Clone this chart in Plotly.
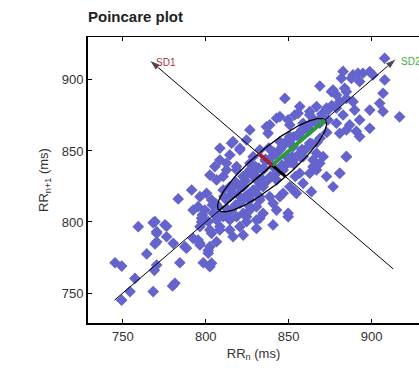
import numpy as np
import plotly.graph_objects as go

# RR interval pairs (ms)
rr_n = [
 759.3,768.3,776.4,770.4,769.4,764.4,745.3,749.3,770.4,769.0,784.4,757.3,781.4,780.0,754.3,768.3,749.3,
 787.4,795.4,796.5,801.5,801.5,798.5,803.5,802.5,803.5,797.5,799.5,
 783.4,791.5,808.5,840.6,849.7,815.6,820.6,836.6,884.8,880.8,890.8,876.8,863.7,
 907.9,882.8,888.8,894.8,900.8,907.9,868.8,876.8,884.8,847.7,916.9,904.9,898.9,
 891.8,898.9,881.8,887.8,892.8,875.8,878.8,883.8,906.9,906.9,892.8,898.9,892.8,880.8,886.8,
 842.7,853.7,856.7,862.7,866.8,872.8,880.8,884.8,888.8,878.8,882.8,889.8,873.7,878.8,884.8,850.7,858.7,
 769.4,775.4,770.4,776.4,770.4,780.4,802.5,805.5,808.5,812.5,
 796.5,800.5,803.5,795.4,799.5,804.5,807.5,797.5,801.5,806.5,810.5,796.5,802.5,808.5,792.4,
 814.5,818.6,822.6,826.6,830.6,815.6,820.6,826.6,832.6,814.5,820.6,824.6,832.6,816.5,822.6,830.6,
 812.5,818.6,822.6,826.6,830.6,816.5,822.6,828.6,806.5,810.5,814.5,819.6,
 792.4,796.5,802.5,806.5,788.4,
 808.5,816.5,820.6,814.5,838.6,837.6,844.7,849.7,855.7,862.7,868.8,862.7,856.7,850.7,844.7,852.7,
 862.7,866.8,858.7,852.7,846.7,856.7,864.7,868.8,842.7,850.7,858.7,826.6,824.6,810.5,818.6,826.6,
 820.6,830.6,834.6,826.6,832.6,828.6,836.6,842.7,848.7,840.6,834.6,822.6,814.5,846.7,854.7,838.6,
 884.8,880.8,872.8,866.8,862.7,853.7,849.7,856.7,864.7,870.8,832.6,840.6,844.7,826.6,834.6,842.7,
 824.6,830.6,
 845.0,850.0,855.0,860.0,865.0,835.0,840.0,846.0,852.0,858.0,828.0,834.0,838.0,848.0,854.0,
 812.0,816.0,820.0,824.0,828.0,832.0,836.0,842.0,846.0,850.0,856.0,860.0,866.0,870.0,874.0,
 808.0,813.0,818.0,823.0,829.0,834.0,839.0,844.0,849.0,854.0,859.0,864.0,869.0,
 818.0,824.0,830.0,836.0,841.0,847.0,853.0,858.0,863.0,870.0,876.0,
 804.0,811.0,817.0,825.0,831.0,837.0,843.0,851.0,857.0,861.0,867.0,873.0,
 798.0,806.0,813.0,821.0,828.0,835.0,
]
rr_n1 = [
 796.7,799.5,797.0,792.0,784.5,777.5,771.3,769.0,769.7,766.0,771.3,760.3,756.8,755.0,751.0,751.0,745.0,
 782.6,787.3,783.8,780.0,778.0,771.3,771.0,768.5,792.0,800.0,801.4,
 816.2,822.5,794.4,797.9,803.7,855.4,851.9,867.0,846.0,834.3,863.8,824.8,821.3,
 915.2,906.0,903.5,904.7,903.5,900.0,895.7,892.9,891.7,887.0,874.0,883.5,878.8,
 904.7,905.8,901.1,901.1,898.8,891.7,889.4,894.1,890.6,877.8,871.8,865.9,860.1,862.4,868.3,
 873.0,875.3,881.2,877.7,881.2,880.1,884.7,887.0,884.7,880.1,875.3,878.8,871.8,869.5,864.8,868.3,869.5,
 800.2,797.9,793.2,789.6,786.1,785.0,833.0,839.0,843.6,841.3,
 817.8,820.2,815.5,810.8,808.4,806.1,810.8,802.6,800.2,801.4,803.7,796.7,794.4,796.7,808.4,
 801.4,803.7,806.1,808.4,810.8,808.4,813.1,815.5,817.8,794.4,796.7,800.2,802.6,789.6,790.8,795.5,
 836.6,839.0,832.0,836.6,829.6,824.8,824.8,822.5,829.6,822.5,817.8,819.0,
 788.5,785.0,782.6,786.1,781.5,
 851.9,856.5,850.7,847.2,868.3,862.4,874.1,871.8,876.5,875.3,869.5,864.8,862.4,860.1,856.5,853.1,
 855.4,848.4,846.0,841.3,836.6,834.3,838.9,841.3,829.6,824.8,827.2,864.8,857.7,832.0,836.6,841.3,
 824.8,832.0,824.8,820.2,850.7,846.0,843.6,848.4,846.0,838.9,836.6,832.0,824.8,820.2,820.2,817.8,
 846.0,834.3,832.0,836.6,834.3,821.3,806.1,848.4,843.6,846.0,815.5,813.1,817.8,810.8,806.1,808.4,
 803.7,801.4,
 851.0,858.0,861.0,866.0,872.0,838.0,846.0,840.0,846.0,851.0,833.0,830.0,852.0,856.0,832.0,
 816.0,821.0,826.0,829.0,834.0,838.0,843.0,848.0,853.0,857.0,861.0,866.0,871.0,874.0,879.0,
 805.0,809.0,812.0,817.0,822.0,826.0,832.0,836.0,841.0,845.0,850.0,855.0,859.0,
 828.0,833.0,839.0,844.0,849.0,854.0,860.0,865.0,869.0,876.0,882.0,
 812.0,818.0,825.0,819.0,824.0,829.0,835.0,842.0,846.0,852.0,856.0,863.0,
 805.0,813.0,806.0,814.0,820.0,827.0,
]

center = 840.0
sd1 = 11.5
sd2 = 45.0
id_lo, id_hi = 745.0, 915.0
perp_start = (913.0, 767.0)
perp_end = (766.0, 914.0)

x_ticks = [750, 800, 850, 900]
y_ticks = [750, 800, 850, 900]

FONT = "Arial, Liberation Sans, sans-serif"
c45 = np.sqrt(0.5)

fig = go.Figure()
fig.add_trace(go.Scatter(x=rr_n, y=rr_n1, mode="markers",
                         marker=dict(symbol="diamond", size=9, color="#6464cc", line=dict(width=0)),
                         hoverinfo="skip"))

# ellipse
t = np.linspace(0, 2 * np.pi, 200)
ex = center + sd2 * np.cos(t) * c45 - sd1 * np.sin(t) * c45
ey = center + sd2 * np.cos(t) * c45 + sd1 * np.sin(t) * c45
fig.add_trace(go.Scatter(x=ex, y=ey, mode="lines", line=dict(color="black", width=1.3), hoverinfo="skip"))

# identity line & perpendicular line, with arrow heads at their far ends
fig.add_trace(go.Scatter(x=[id_lo, id_hi], y=[id_lo, id_hi], mode="lines+markers",
                         line=dict(color="black", width=1),
                         marker=dict(symbol="arrow", angleref="previous", size=[0, 12], color="black"),
                         hoverinfo="skip"))
fig.add_trace(go.Scatter(x=[perp_start[0], perp_end[0]], y=[perp_start[1], perp_end[1]], mode="lines+markers",
                         line=dict(color="black", width=1),
                         marker=dict(symbol="arrow", angleref="previous", size=[0, 12], color="black"),
                         hoverinfo="skip"))
# thick segments inside ellipse
fig.add_trace(go.Scatter(x=[center, center + sd1 * c45], y=[center, center - sd1 * c45], mode="lines",
                         line=dict(color="black", width=3), hoverinfo="skip"))
fig.add_trace(go.Scatter(x=[center - sd2 * c45, center], y=[center - sd2 * c45, center], mode="lines",
                         line=dict(color="black", width=1.5), hoverinfo="skip"))
fig.add_trace(go.Scatter(x=[center, center + sd2 * c45], y=[center, center + sd2 * c45], mode="lines",
                         line=dict(color="#2a9a3a", width=4), hoverinfo="skip"))
fig.add_trace(go.Scatter(x=[center, center - sd1 * c45], y=[center, center + sd1 * c45], mode="lines",
                         line=dict(color="#a02030", width=4), hoverinfo="skip"))

fig.add_annotation(x=perp_end[0] + 2.5, y=perp_end[1] - 2, text="SD1", showarrow=False, xanchor="left",
                   font=dict(family=FONT, size=10, color="#b03040"))
fig.add_annotation(x=id_hi + 1.5, y=id_hi - 2, text="SD2", showarrow=False, xanchor="left",
                   font=dict(family=FONT, size=10, color="#30b040"))

fig.update_layout(
    width=419, height=374,
    margin=dict(l=88, r=0, t=37, b=51),
    paper_bgcolor="white", plot_bgcolor="white",
    showlegend=False,
    font=dict(family=FONT, size=13, color="#333"),
    title=dict(text="<b>Poincare plot</b>", x=88 / 419, xanchor="left", y=0.955, yanchor="middle",
               font=dict(family=FONT, size=15, color="#222")),
    xaxis=dict(range=[729, 928.6], tickvals=x_ticks, ticks="inside", ticklen=4, tickcolor="black",
               showline=True, linecolor="black", linewidth=2, showgrid=False, zeroline=False,
               title=dict(text="RR<sub>n</sub> (ms)", font=dict(family=FONT, size=13, color="#333"), standoff=6)),
    xaxis2=dict(matches="x", overlaying="x", side="top", tickvals=x_ticks, ticks="inside", ticklen=4,
                tickcolor="black", showline=True, linecolor="black", linewidth=1, showticklabels=False,
                showgrid=False, zeroline=False),
    yaxis=dict(range=[728.9, 930.2], tickvals=y_ticks, ticks="inside", ticklen=4, tickcolor="black",
               showline=True, linecolor="black", linewidth=2, showgrid=False, zeroline=False,
               title=dict(text="RR<sub>n+1</sub> (ms)", font=dict(family=FONT, size=13, color="#333"), standoff=10)),
)
fig.add_trace(go.Scatter(x=[None], y=[None], xaxis="x2", showlegend=False, hoverinfo="skip"))

fig.write_html("out.html")
